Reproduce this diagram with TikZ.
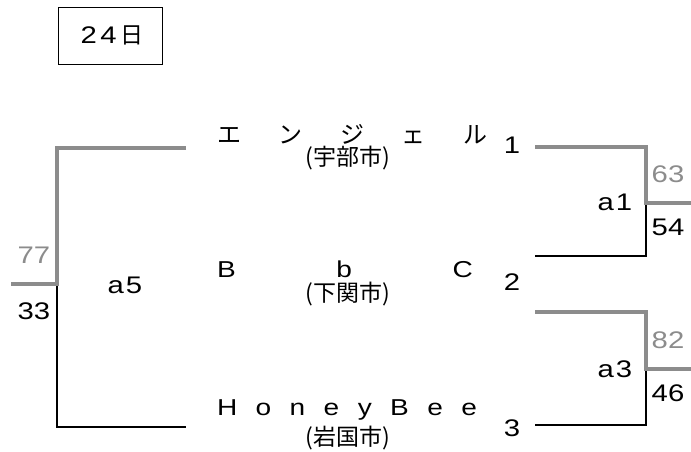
\documentclass[tikz,border=0pt]{standalone}
\usepackage{fontspec}
\setmainfont{Liberation Sans}
\newfontfamily\wide[FakeStretch=1.22]{Liberation Sans}
\newfontfamily\jp{Noto Sans CJK JP}
\definecolor{lgray}{gray}{0.55}
\begin{document}
\begin{tikzpicture}[x=1pt,y=-1pt,
  txt/.style={inner sep=0pt,font=\fontsize{24}{28}\selectfont\wide},
  tname/.style={inner sep=0pt,font=\fontsize{23}{27}\selectfont\wide},
  gtxt/.style={txt,text=lgray},
  sub/.style={inner sep=0pt,font=\fontsize{23}{27}\selectfont\jp},
  win/.style={draw=lgray,line width=4pt},
  lose/.style={draw=black,line width=1.2pt}]
\useasboundingbox (0,0) rectangle (691,452);
% date box
\node[draw,line width=0.9pt,minimum width=104pt,minimum height=57pt,inner sep=0pt] (datebox) at (110,35.5) {};
\node[txt] (date) at (112,35) {\makebox[63pt][s]{2\hfill4\hfill{\jp\fontsize{23}{27}\selectfont 日}}};
% team names
\node[tname] (t1) at (352,134) {\jp\fontsize{24}{28}\selectfont\makebox[270pt][s]{エ\hfill ン\hfill ジ\hfill ェ\hfill ル}};
\node[sub] (s1) at (348,158) {(宇部市)};
\node[tname] (t2) at (345,269) {\makebox[256pt][s]{B\hfill b\hfill C}};
\node[sub] (s2) at (348,294) {(下関市)};
\node[tname] (t3) at (347,410) {\makebox[260pt][s]{H\hfill o\hfill n\hfill e\hfill y\hfill B\hfill e\hfill e}};
\node[sub] (s3) at (348,438) {(岩国市)};
% seed numbers
\node[txt] (n1) at (512,145) {1};
\node[txt] (n2) at (512,282) {2};
\node[txt] (n3) at (512,428) {3};
% coordinates for lines
\coordinate (L1) at (186,148);
\coordinate (L1c) at (57,148);
\coordinate (L5) at (57,284);
\coordinate (L5e) at (11,284);
\coordinate (L3c) at (57,427);
\coordinate (L3) at (186,427);
\coordinate (R1) at (535,147);
\coordinate (R1c) at (646,147);
\coordinate (A1) at (646,203);
\coordinate (A1e) at (691,203);
\coordinate (R2c) at (646,256);
\coordinate (R2) at (535,256);
\coordinate (R2b) at (535,312);
\coordinate (R2bc) at (646,312);
\coordinate (A3) at (646,369);
\coordinate (A3e) at (691,369);
\coordinate (R3c) at (646,425);
\coordinate (R3) at (535,425);
% left bracket (a5)
\draw[lose] (L5) -- (L3c) -- (L3);
\draw[win] (L1) -- (L1c) -- (L5) -- (L5e);
% right bracket a1
\draw[lose] (A1) -- (R2c) -- (R2);
\draw[win] (R1) -- (R1c) -- (A1) -- (A1e);
% right bracket a3
\draw[lose] (A3) -- (R3c) -- (R3);
\draw[win] (R2b) -- (R2bc) -- (A3) -- (A3e);
% match labels and scores
\node[txt] (a5) at (125,285) {a\kern2pt 5};
\node[gtxt] (sc77) at (34,255) {77};
\node[txt] (sc33) at (34,311) {33};
\node[txt] (a1) at (615,202) {a\kern2pt 1};
\node[gtxt] (sc63) at (668,174) {63};
\node[txt] (sc54) at (668,227) {54};
\node[txt] (a3) at (615,369) {a\kern2pt 3};
\node[gtxt] (sc82) at (668,340) {82};
\node[txt] (sc46) at (668,393) {46};
\end{tikzpicture}
\end{document}
